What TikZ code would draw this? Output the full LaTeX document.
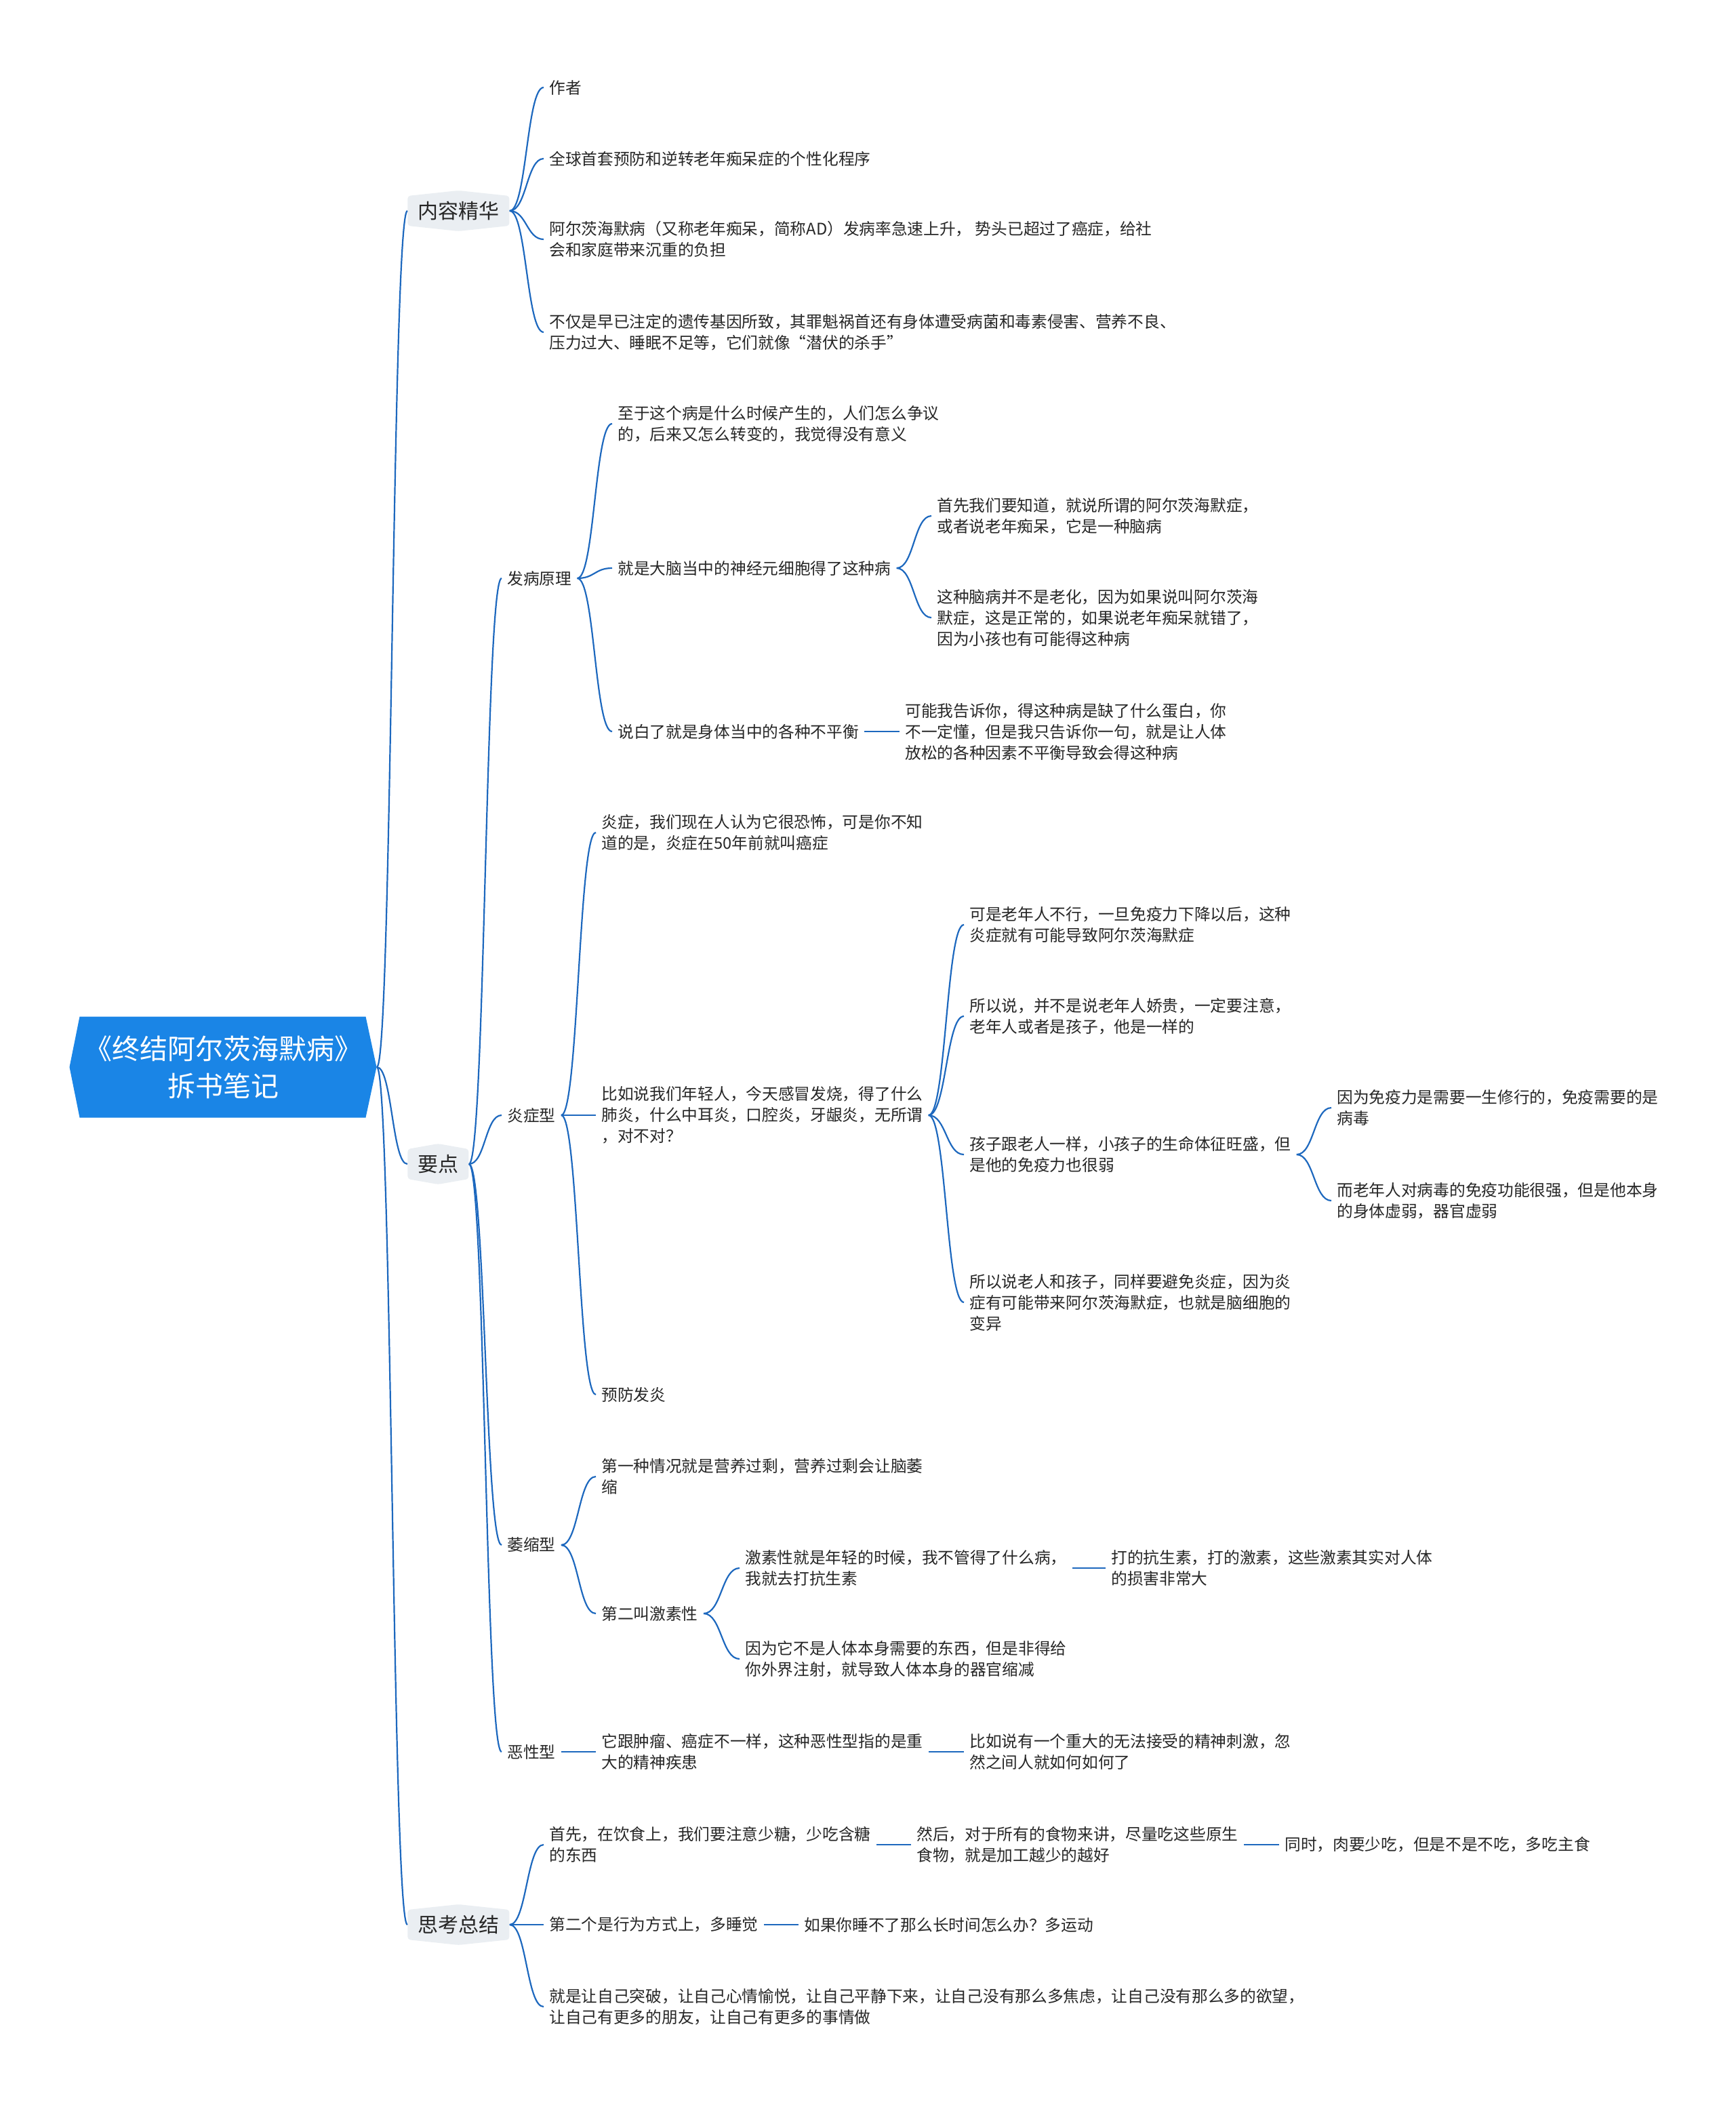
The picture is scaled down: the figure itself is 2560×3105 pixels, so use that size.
\documentclass[tikz,border=0pt]{standalone}
\usepackage{fontspec}
\setmainfont{Noto Sans CJK SC}
\usetikzlibrary{calc}

\definecolor{linkblue}{HTML}{1D68BE}
\definecolor{rootblue}{HTML}{1A85E6}
\definecolor{bubblegray}{HTML}{EAEEF2}
\definecolor{textgray}{HTML}{262626}

\begin{document}
\begin{tikzpicture}[x=0.5pt, y=-0.5pt,
    link/.style={draw=linkblue, line width=1.1pt,
      to path={let \p1=(\tikztostart), \p2=(\tikztotarget) in
        .. controls ({0.5*\x1+0.5*\x2},\y1) and ({0.5*\x1+0.5*\x2},\y2) .. (\tikztotarget)}},
    txt/.style={anchor=west, align=left, inner xsep=4pt, inner ysep=2pt,
      text=textgray, font=\fontsize{11.85}{15.5}\selectfont},
    topic/.style={anchor=west, inner xsep=7.5pt, inner ysep=0pt, minimum height=30pt,
      text=textgray, font=\fontsize{15}{18}\selectfont,
      path picture={\fill [bubblegray, rounded corners=2pt]
        ([yshift=-4pt]path picture bounding box.north west) -- (path picture bounding box.north)
        -- ([yshift=-4pt]path picture bounding box.north east) -- ([yshift=4pt]path picture bounding box.south east)
        -- (path picture bounding box.south) -- ([yshift=4pt]path picture bounding box.south west) -- cycle;}},
    rootbox/.style={minimum width=226.5pt, minimum height=74.5pt, inner sep=0pt, align=center,
      text=white, font=\fontsize{20.5}{27.5}\selectfont,
      path picture={\fill [rootblue]
        ([xshift=7.5pt]path picture bounding box.north west) -- ([xshift=-8pt]path picture bounding box.north east)
        -- (path picture bounding box.east) -- ([xshift=-8pt]path picture bounding box.south east)
        -- ([xshift=7.5pt]path picture bounding box.south west) -- (path picture bounding box.west) -- cycle;}}
  ]
  \useasboundingbox (0,0) rectangle (2560,3105);

  \node [rootbox] (root) at (329,1574) {《终结阿尔茨海默病》\\拆书笔记};

  \node [topic] (essence) at (601,311) {内容精华};
  \node [topic] (keypts) at (601,1717) {要点};
  \node [topic] (summary) at (601,2839) {思考总结};

  \node [txt] (author) at (802,129) {作者};
  \node [txt] (program) at (802,234) {全球首套预防和逆转老年痴呆症的个性化程序};
  \node [txt] (rate) at (802,353) {阿尔茨海默病（又称老年痴呆，简称AD）发病率急速上升， 势头已超过了癌症，给社\\会和家庭带来沉重的负担};
  \node [txt] (killer) at (802,490) {不仅是早已注定的遗传基因所致，其罪魁祸首还有身体遭受病菌和毒素侵害、营养不良、\\压力过大、睡眠不足等，它们就像“潜伏的杀手”};

  \node [txt] (cause) at (740,853) {发病原理};
  \node [txt] (inflam) at (740,1645) {炎症型};
  \node [txt] (atrophy) at (740,2279) {萎缩型};
  \node [txt] (malig) at (740,2584) {恶性型};

  \node [txt] (origin) at (903,625) {至于这个病是什么时候产生的，人们怎么争议\\的，后来又怎么转变的，我觉得没有意义};
  \node [txt] (neuron) at (903,838) {就是大脑当中的神经元细胞得了这种病};
  \node [txt] (balance) at (903,1079) {说白了就是身体当中的各种不平衡};
  \node [txt] (brain) at (1374,761) {首先我们要知道，就说所谓的阿尔茨海默症，\\或者说老年痴呆，它是一种脑病};
  \node [txt] (aging) at (1374,911) {这种脑病并不是老化，因为如果说叫阿尔茨海\\默症，这是正常的，如果说老年痴呆就错了，\\因为小孩也有可能得这种病};
  \node [txt] (protein) at (1327,1079) {可能我告诉你，得这种病是缺了什么蛋白，你\\不一定懂，但是我只告诉你一句，就是让人体\\放松的各种因素不平衡导致会得这种病};

  \node [txt] (cancer) at (879,1228) {炎症，我们现在人认为它很恐怖，可是你不知\\道的是，炎症在50年前就叫癌症};
  \node [txt] (young) at (879,1645) {比如说我们年轻人，今天感冒发烧，得了什么\\肺炎，什么中耳炎，口腔炎，牙龈炎，无所谓\\，对不对？};
  \node [txt] (prevent) at (879,2057) {预防发炎};
  \node [txt] (elder) at (1422,1364) {可是老年人不行，一旦免疫力下降以后，这种\\炎症就有可能导致阿尔茨海默症};
  \node [txt] (equal) at (1422,1499) {所以说，并不是说老年人娇贵，一定要注意，\\老年人或者是孩子，他是一样的};
  \node [txt] (child) at (1422,1703) {孩子跟老人一样，小孩子的生命体征旺盛，但\\是他的免疫力也很弱};
  \node [txt] (avoid) at (1422,1921) {所以说老人和孩子，同样要避免炎症，因为炎\\症有可能带来阿尔茨海默症，也就是脑细胞的\\变异};
  \node [txt] (lifelong) at (1964,1634) {因为免疫力是需要一生修行的，免疫需要的是\\病毒};
  \node [txt] (weak) at (1964,1771) {而老年人对病毒的免疫功能很强，但是他本身\\的身体虚弱，器官虚弱};

  \node [txt] (overfed) at (879,2178) {第一种情况就是营养过剩，营养过剩会让脑萎\\缩};
  \node [txt] (hormone) at (879,2380) {第二叫激素性};
  \node [txt] (antibio) at (1091,2313) {激素性就是年轻的时候，我不管得了什么病，\\我就去打抗生素};
  \node [txt] (damage) at (1631,2313) {打的抗生素，打的激素，这些激素其实对人体\\的损害非常大};
  \node [txt] (shrink) at (1091,2447) {因为它不是人体本身需要的东西，但是非得给\\你外界注射，就导致人体本身的器官缩减};

  \node [txt] (mental) at (879,2584) {它跟肿瘤、癌症不一样，这种恶性型指的是重\\大的精神疾患};
  \node [txt] (shock) at (1422,2584) {比如说有一个重大的无法接受的精神刺激，忽\\然之间人就如何如何了};

  \node [txt] (sugar) at (802,2721) {首先，在饮食上，我们要注意少糖，少吃含糖\\的东西};
  \node [txt] (raw) at (1344,2721) {然后，对于所有的食物来讲，尽量吃这些原生\\食物，就是加工越少的越好};
  \node [txt] (meat) at (1887,2721) {同时，肉要少吃，但是不是不吃，多吃主食};
  \node [txt] (sleep) at (802,2839) {第二个是行为方式上，多睡觉};
  \node [txt] (sport) at (1178,2839) {如果你睡不了那么长时间怎么办？多运动};
  \node [txt] (mood) at (802,2960) {就是让自己突破，让自己心情愉悦，让自己平静下来，让自己没有那么多焦虑，让自己没有那么多的欲望，\\让自己有更多的朋友，让自己有更多的事情做};

  \draw [link] (root.east) to (essence.west);
  \draw [link] (root.east) to (keypts.west);
  \draw [link] (root.east) to (summary.west);

  \draw [link] (essence.east) to (author.west);
  \draw [link] (essence.east) to (program.west);
  \draw [link] (essence.east) to (rate.west);
  \draw [link] (essence.east) to (killer.west);

  \draw [link] (keypts.east) to (cause.west);
  \draw [link] (keypts.east) to (inflam.west);
  \draw [link] (keypts.east) to (atrophy.west);
  \draw [link] (keypts.east) to (malig.west);

  \draw [link] (cause.east) to (origin.west);
  \draw [link] (cause.east) to (neuron.west);
  \draw [link] (cause.east) to (balance.west);
  \draw [link] (neuron.east) to (brain.west);
  \draw [link] (neuron.east) to (aging.west);
  \draw [link] (balance.east) -- (protein.west);

  \draw [link] (inflam.east) to (cancer.west);
  \draw [link] (inflam.east) -- (young.west);
  \draw [link] (inflam.east) to (prevent.west);
  \draw [link] (young.east) to (elder.west);
  \draw [link] (young.east) to (equal.west);
  \draw [link] (young.east) to (child.west);
  \draw [link] (young.east) to (avoid.west);
  \draw [link] (child.east) to (lifelong.west);
  \draw [link] (child.east) to (weak.west);

  \draw [link] (atrophy.east) to (overfed.west);
  \draw [link] (atrophy.east) to (hormone.west);
  \draw [link] (hormone.east) to (antibio.west);
  \draw [link] (hormone.east) to (shrink.west);
  \draw [link] (antibio.east) -- (damage.west);

  \draw [link] (malig.east) -- (mental.west);
  \draw [link] (mental.east) -- (shock.west);

  \draw [link] (summary.east) to (sugar.west);
  \draw [link] (summary.east) -- (sleep.west);
  \draw [link] (summary.east) to (mood.west);
  \draw [link] (sugar.east) -- (raw.west);
  \draw [link] (raw.east) -- (meat.west);
  \draw [link] (sleep.east) -- (sport.west);
\end{tikzpicture}
\end{document}
